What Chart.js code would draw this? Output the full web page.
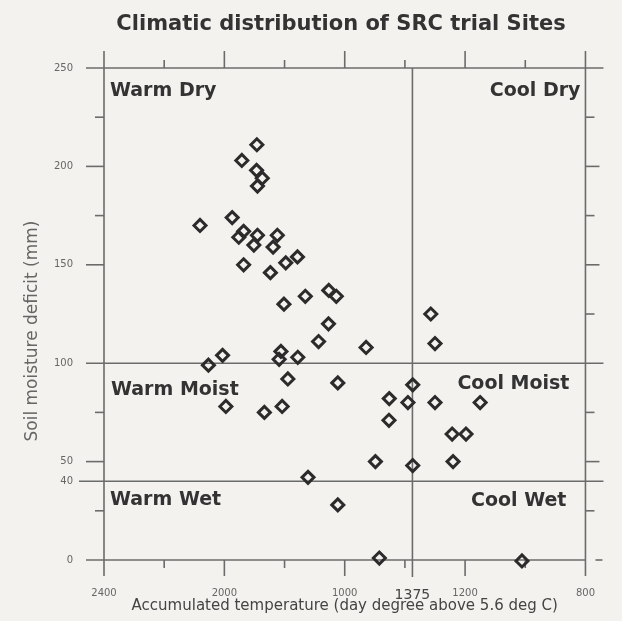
<!DOCTYPE html>
<html>
<head>
<meta charset="utf-8">
<script src="https://cdn.jsdelivr.net/npm/chart.js@4.4.1/dist/chart.umd.min.js"></script>
<style>
html, body { margin: 0; padding: 0; background: #f3f2ef; }
</style>
</head>
<body>
<canvas id="sites" width="622" height="621"></canvas>
<script>
// site values
const accTemp = [
    1892, 1942, 1893, 1874, 1890, 1974, 2081, 1952, 1936, 1890,
    1902, 1824, 1838, 1936, 1847, 1796, 1757, 1802, 1731, 1653,
    1628, 1654, 1687, 1529, 2006, 2053, 1812, 1818, 1756, 1789,
    1623, 1995, 1867, 1808, 1722, 1314, 1300, 1374, 1452, 1390,
    1300, 1150, 1453, 1243, 1197, 1498, 1374, 1240, 1623, 1485,
    1011
];
const soilDeficit = [
    211, 203, 198, 194, 190, 174, 170, 164, 167, 165,
    160, 165, 159, 150, 146, 151, 154, 130, 134, 137,
    134, 120, 111, 108, 104, 99, 106, 102, 103, 92,
    90, 78, 75, 78, 42, 125, 110, 89, 82, 80,
    80, 80, 71, 64, 64, 50, 48, 50, 28, 1,
    -0.5
];

const xTickValues = [2400, 2000, 1600, 1375, 1200, 800];
const xTickLabels = ['2400', '2000', '1000', '1375', '1200', '800'];
const yTickValues = [250, 200, 150, 100, 50, 40, 0];
const yTickLabels = ['250', '200', '150', '100', '50', '40', '0'];

const xMajor = [2000, 1600, 1200];
const xMinor = [2200, 1800, 1400, 1000];
const yMajorLeft = [200, 150, 50];
const yMinorLeft = [225, 175, 75, 25];
const yRightTicks = [225, 200, 175, 150, 125, 75, 50, 25];

const splitTemp = 1375;
const splitDeficit = [100, 40];

const chartTitle = 'Climatic distribution of SRC trial Sites';
const xTitle = 'Accumulated temperature (day degree above 5.6 deg C)';
const yTitle = 'Soil moisture deficit (mm)';
const zoneNames = ['Warm Dry', 'Cool Dry', 'Warm Moist', 'Cool Moist', 'Warm Wet', 'Cool Wet'];

const FONT = '"DejaVu Sans", sans-serif';

// axes frame, ticks, dividing lines and the texts
const framePlugin = {
    id: 'frame',
    beforeDraw(chart) {
        const ctx = chart.ctx;
        ctx.save();
        ctx.fillStyle = '#f3f2ef';
        ctx.fillRect(0, 0, chart.width, chart.height);
        ctx.restore();
    },
    beforeDatasetsDraw(chart) {
        const {ctx, scales: {x, y}} = chart;
        const L = x.getPixelForValue(2400), R = x.getPixelForValue(800);
        const T = y.getPixelForValue(250), B = y.getPixelForValue(0);
        const line = (x1, y1, x2, y2) => {
            ctx.beginPath();
            ctx.moveTo(x1, y1);
            ctx.lineTo(x2, y2);
            ctx.stroke();
        };
        ctx.save();
        ctx.strokeStyle = '#6b6b6b';
        ctx.lineWidth = 1.6;

        line(L - 18, T, R + 18, T);
        line(L - 18, B, R, B);
        line(L, T - 17, L, B + 16);
        line(R, T - 17, R, B + 16);

        xMajor.forEach(v => {
            const px = x.getPixelForValue(v);
            line(px, T, px, T - 17);
            line(px, B, px, B + 16);
        });
        xMinor.forEach(v => {
            const px = x.getPixelForValue(v);
            line(px, T, px, T - 8);
            line(px, B, px, B + 8);
        });
        yMajorLeft.forEach(v => {
            const py = y.getPixelForValue(v);
            line(L, py, L - 18, py);
        });
        yMinorLeft.forEach(v => {
            const py = y.getPixelForValue(v);
            line(L, py, L - 9, py);
        });
        yRightTicks.forEach(v => {
            const py = y.getPixelForValue(v);
            line(R, py, R + (v % 50 === 0 ? 14 : 9), py);
        });
        line(R + 10, B, R + 17, B);

        // zone dividers
        const sx = x.getPixelForValue(splitTemp);
        line(sx, T, sx, B + 17);
        const y100 = y.getPixelForValue(splitDeficit[0]);
        const y40 = y.getPixelForValue(splitDeficit[1]);
        line(L - 18, y100, R + 18, y100);
        line(L - 25, y40, R + 18, y40);
        ctx.restore();
    },
    afterDraw(chart) {
        const {ctx, scales: {x, y}} = chart;
        const L = x.getPixelForValue(2400), R = x.getPixelForValue(800);
        const T = y.getPixelForValue(250);
        const y100 = y.getPixelForValue(splitDeficit[0]);
        const y40 = y.getPixelForValue(splitDeficit[1]);
        ctx.save();
        ctx.fillStyle = '#333333';
        ctx.font = 'bold 21px ' + FONT;
        ctx.textAlign = 'center';
        ctx.textBaseline = 'middle';
        ctx.fillText(chartTitle, 341, 25);

        ctx.font = 'bold 19px ' + FONT;
        ctx.textBaseline = 'alphabetic';
        ctx.textAlign = 'left';
        ctx.fillText(zoneNames[0], L + 6, T + 28);
        ctx.fillText(zoneNames[2], L + 7, y100 + 32);
        ctx.fillText(zoneNames[4], L + 6, y40 + 24);
        ctx.textAlign = 'right';
        ctx.fillText(zoneNames[1], R - 5, T + 28);
        ctx.fillText(zoneNames[3], R - 16, y100 + 26);
        ctx.fillText(zoneNames[5], R - 19, y40 + 25);

        ctx.fillStyle = '#666666';
        ctx.font = '17px ' + FONT;
        ctx.textAlign = 'center';
        ctx.textBaseline = 'middle';
        ctx.translate(33, 331);
        ctx.rotate(-Math.PI / 2);
        ctx.fillText(yTitle, 0, 0);
        ctx.restore();
    }
};

const siteData = {
    datasets: [{
        label: 'Sites',
        data: accTemp.map((t, i) => ({x: t, y: soilDeficit[i]})),
        pointStyle: 'rectRot',
        pointRadius: 6,
        pointHoverRadius: 6,
        pointBorderWidth: 3,
        borderColor: '#2b2b2b',
        backgroundColor: 'rgba(0,0,0,0)',
        showLine: false,
        clip: false
    }]
};

const siteConfig = {
    type: 'scatter',
    data: siteData,
    plugins: [framePlugin],
    options: {
        responsive: false,
        animation: false,
        events: [],
        layout: {
            padding: {top: 68, right: 20, left: 0, bottom: 0}
        },
        plugins: {
            legend: {display: false},
            tooltip: {enabled: false}
        },
        scales: {
            x: {
                type: 'linear',
                reverse: true,
                min: 800,
                max: 2400,
                afterBuildTicks: (scale) => {
                    scale.ticks = xTickValues.map(v => ({value: v}));
                },
                afterFit: (scale) => { scale.height = 61; },
                grid: {display: false, drawTicks: false},
                border: {display: false},
                ticks: {
                    autoSkip: false,
                    maxRotation: 0,
                    padding: 27,
                    callback: (value) => xTickLabels[xTickValues.indexOf(value)],
                    font: (c) => (c.tick && c.tick.value === splitTemp)
                        ? {family: FONT, size: 14}
                        : {family: FONT, size: 10},
                    color: (c) => (c.tick && c.tick.value === splitTemp) ? '#444' : '#666'
                },
                title: {
                    display: true,
                    text: xTitle,
                    color: '#444',
                    font: {family: FONT, size: 15},
                    padding: {top: 0, bottom: 6}
                }
            },
            y: {
                type: 'linear',
                min: 0,
                max: 250,
                afterBuildTicks: (scale) => {
                    scale.ticks = yTickValues.map(v => ({value: v}));
                },
                afterFit: (scale) => { scale.width = 104; },
                grid: {display: false, drawTicks: false},
                border: {display: false},
                ticks: {
                    autoSkip: false,
                    padding: 31,
                    callback: (value) => yTickLabels[yTickValues.indexOf(value)],
                    font: {family: FONT, size: 10},
                    color: '#666'
                }
            }
        }
    }
};

const siteChart = new Chart(
    document.getElementById('sites'),
    siteConfig
);
</script>
</body>
</html>
